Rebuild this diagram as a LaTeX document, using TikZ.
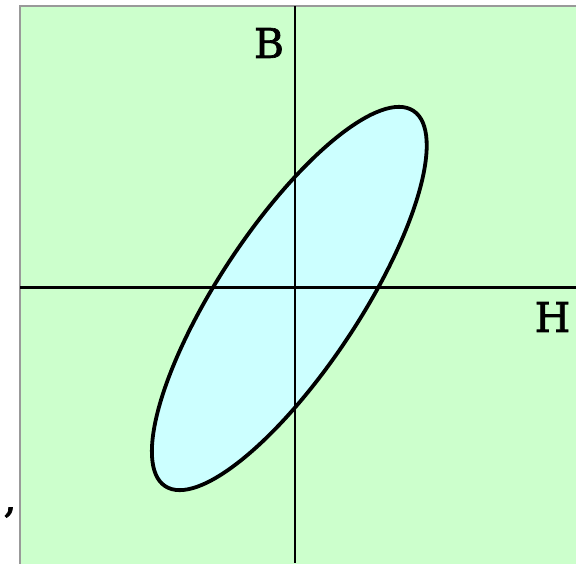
\documentclass[tikz,border=0pt]{standalone}
\usepackage{fontspec}
\setmainfont{DejaVu Serif}
\newfontfamily\labfont[FakeBold=1.6]{DejaVu Serif}
\definecolor{bggreen}{HTML}{CCFFCC}
\definecolor{loopcyan}{HTML}{CCFFFF}
\definecolor{framegray}{HTML}{999999}
\tikzset{
  lab/.style={inner sep=0pt, font=\labfont\fontsize{41}{49}\selectfont},
  axisline/.style={draw=black},
}
\begin{document}
\begin{tikzpicture}[x=1pt,y=-1pt]
\useasboundingbox (0,0) rectangle (576,563);
\clip (0,0) rectangle (576,563);
% panel
\fill[bggreen] (20,6) rectangle (590,580);
\draw[framegray, line width=2pt] (20,580) -- (20,6) -- (590,6);
% hysteresis loop fill
\fill[loopcyan, shift={(289.3,298.5)}, rotate=56.5] (0,0) ellipse [x radius=225, y radius=70.5];
% axes
\coordinate (ytop) at (295,6);
\coordinate (ybot) at (295,563);
\coordinate (xleft) at (20,287.3);
\coordinate (xright) at (576,287.3);
\draw[axisline, line width=2.4pt] (ytop) -- (ybot);
\draw[axisline, line width=3pt] (xleft) -- (xright);
% loop outline
\draw[black, line width=3.8pt, shift={(289.3,298.5)}, rotate=56.5] (0,0) ellipse [x radius=225, y radius=70.5];
% labels
\node[lab] (B) at (269,43) {B};
\node[lab] (H) at (552.5,317) {H};
\node[lab, anchor=base] (comma) at (10,512) {,};
\end{tikzpicture}
\end{document}
